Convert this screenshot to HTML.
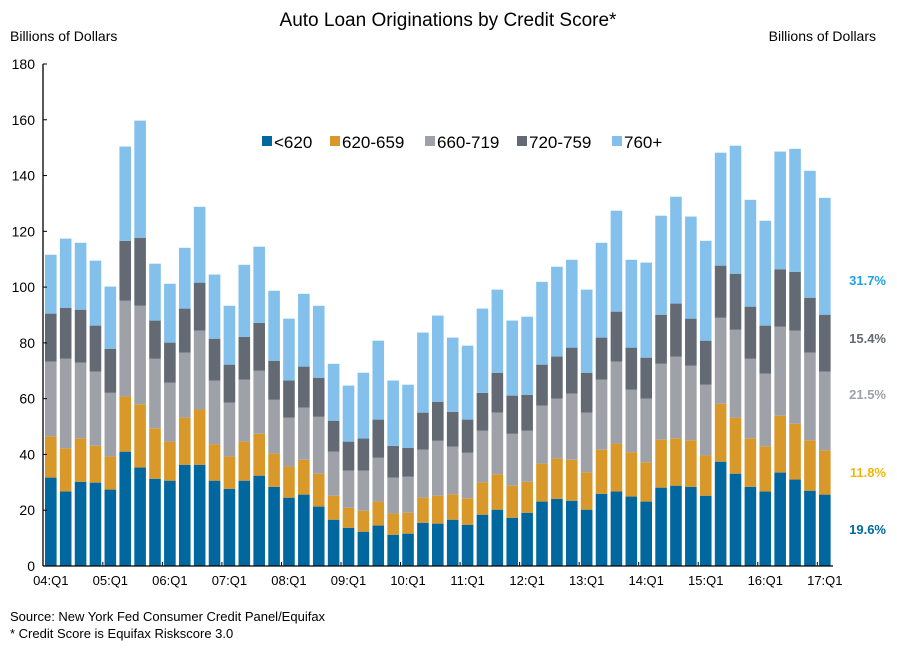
<!DOCTYPE html>
<html><head><meta charset="utf-8"><style>
body{margin:0;background:#fff;font-family:"Liberation Sans",Arial,sans-serif;}
svg{display:block}
</style></head><body>
<svg id="chart" width="897" height="648" font-family="Liberation Sans, Arial, sans-serif">
<text x="448" y="26" text-anchor="middle" font-size="19">Auto Loan Originations by Credit Score*</text>
<text x="10" y="41" font-size="14">Billions of Dollars</text>
<text x="876" y="41" font-size="14" text-anchor="end">Billions of Dollars</text>
<g id="bars"></g>
<g id="axes"></g>
<g id="legend"></g>
<g id="shares"></g>
<text x="10" y="621" font-size="13">Source: New York Fed Consumer Credit Panel/Equifax</text>
<text x="10" y="638" font-size="13">* Credit Score is Equifax Riskscore 3.0</text>
</svg>
<script>
const seriesNames=["<620","620-659","660-719","720-759","760+"];
const yearLabels=["04:Q1","05:Q1","06:Q1","07:Q1","08:Q1","09:Q1","10:Q1","11:Q1","12:Q1","13:Q1","14:Q1","15:Q1","16:Q1","17:Q1"];
const yTicks=[0,20,40,60,80,100,120,140,160,180];
// cumulative tops per bar (billions)
const cum620=[31.7,26.7,30.2,29.9,27.4,41,35.3,31.3,30.6,36.3,36.3,30.6,27.7,30.6,32.4,28.4,24.5,25.6,21.3,16.6,13.7,12.3,14.5,11.2,11.6,15.5,15.2,16.6,14.8,18.4,20.2,17.3,19.1,23.1,24.1,23.4,20.2,25.9,26.7,24.9,23.1,28.1,28.8,28.4,25.2,37.4,33.1,28.4,26.7,33.5,31,27,25.6];
const cum659=[46.5,42.2,45.8,43.1,39.3,60.8,58,49.4,44.6,53.2,56.1,43.6,39.3,44.6,47.4,40.3,35.7,38.1,33.1,25.2,20.9,19.8,23.1,18.8,19.1,24.5,25.2,25.7,24.3,30,32.9,28.8,30.2,36.7,38.6,38.1,33.6,41.7,43.9,40.8,37.2,45.3,45.8,45.1,39.6,58.2,53.2,45.8,42.9,53.9,51,45.1,41.5];
const cum719=[73.3,74.3,72.9,69.7,62.1,95.1,93.3,74.3,65.7,76.5,84.4,66.5,58.6,66.8,70,59.6,53.2,56.8,53.5,41,34.2,34.2,38.8,31.7,32,41.7,44.9,42.8,40.6,48.5,55,47.4,48.5,57.5,60,61.8,55,66.8,73.3,63.2,60,72.5,75.1,71.8,65,89,84.7,74.3,69,85.8,84.4,76.5,69.7];
const cum759=[90.5,92.6,91.9,86.2,77.9,116.6,117.7,88,80.1,92.3,101.6,81.5,72.2,82.2,87.2,73.6,66.5,71.5,67.5,52.1,44.6,45.7,52.5,43.1,42.4,55,58.9,55.3,52.5,62.1,69.3,61.1,61.4,72.2,75.1,78.3,69.3,81.9,91.2,78.3,74.7,90.1,94.1,88.7,80.8,107.7,104.8,93,86.2,106.4,105.5,96.2,90.1];
const totals=[111.6,117.4,115.9,109.5,100.2,150.4,159.7,108.4,101.2,114.1,128.8,104.5,93.3,108,114.5,98.7,88.7,97.6,93.3,72.5,64.7,69.3,80.8,66.5,65,83.7,89.8,81.9,79,92.3,99.1,88,89.4,101.9,107.3,109.8,99.1,115.9,127.4,109.8,108.8,125.6,132.4,125.3,116.6,148.2,150.7,131.3,123.8,148.6,149.6,141.7,132];
const shareLabels=["31.7%","15.4%","21.5%","11.8%","19.6%"];

const colors=["#00679f","#d8982a","#9ea1a8","#636a74","#83c1ec"];
const NS="http://www.w3.org/2000/svg";
const x0=43.3,pitch=14.885,bw=11.6,yBase=566,yTop=64,yMax=180;
const y=v=>yBase-(v/yMax)*(yBase-yTop);
const xb=i=>x0+1.7+i*pitch;
function mk(tag,attrs,parent){const e=document.createElementNS(NS,tag);for(const k in attrs)e.setAttribute(k,attrs[k]);parent.appendChild(e);return e;}
const bars=document.getElementById('bars');
const layers=[cum620,cum659,cum719,cum759,totals];
for(let i=0;i<totals.length;i++){
  let prev=0;
  for(let s=0;s<5;s++){
    const v=layers[s][i];
    const r=mk('rect',{x:xb(i),y:y(v),width:bw,height:y(prev)-y(v),fill:colors[s]},bars);
    
    
    prev=v;
  }
}
const ax=document.getElementById('axes');
const la=mk('line',{x1:43,y1:yTop,x2:43,y2:yBase,stroke:'#000','stroke-width':1.3},ax);

const xa=mk('line',{x1:43,y1:yBase,x2:833,y2:yBase,stroke:'#000','stroke-width':1.3},ax);

yTicks.forEach(t=>{
  mk('line',{x1:43,y1:y(t),x2:47,y2:y(t),stroke:'#000'},ax);
  const tx=mk('text',{x:35,y:y(t)+5,'text-anchor':'end','font-size':14},ax);
  tx.textContent=t;
  
});
yearLabels.forEach((l,k)=>{
  const i=k*4;
  if(k>0){const tx=x0+i*pitch;mk('line',{x1:tx,y1:yBase,x2:tx,y2:yBase-4,stroke:'#000'},ax);}
  const t=mk('text',{x:xb(i)+bw/2,y:585,'text-anchor':'middle','font-size':13},ax);
  t.textContent=l;
  
});
const lg=document.getElementById('legend');
const lx=[262,330,425,517,612];
seriesNames.forEach((n,s)=>{
  mk('rect',{x:lx[s],y:136,width:10,height:10,fill:colors[s]},lg);
  const t=mk('text',{x:lx[s]+12,y:148,'font-size':17},lg);
  t.textContent=n;
  
});
const sh=document.getElementById('shares');
const shY=[285,343,399,477,534],shC=["#1ea3e6","#636a74","#9ea1a8","#f2b705","#00679f"];
shareLabels.forEach((l,k)=>{
  const t=mk('text',{x:886,y:shY[k],'text-anchor':'end','font-size':13,'font-weight':'bold',fill:shC[k]},sh);
  t.textContent=l;
  
});
</script>
</body></html>
